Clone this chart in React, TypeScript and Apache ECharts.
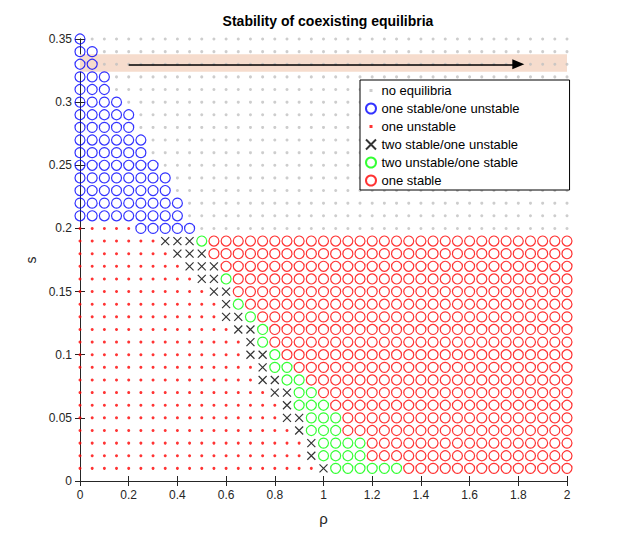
import React, { useEffect, useRef } from "react";
import * as echarts from "echarts";

// x grid: rho = 0..2 step 0.05 ; s rows 0.01..0.35
const xCount = 41;
const xStep = 0.05;
// Lower region rows (s = 0.01 .. 0.19): number of red dots, crosses, green circles; remainder red circles
const lowRows = [0.01, 0.02, 0.03, 0.04, 0.05, 0.06, 0.07, 0.08, 0.09, 0.1, 0.11, 0.12, 0.13, 0.14, 0.15, 0.16, 0.17, 0.18, 0.19];
const lowDots = [20, 19, 19, 18, 17, 17, 16, 15, 15, 14, 14, 13, 12, 12, 11, 10, 9, 8, 7];
const lowCross = [1, 1, 1, 1, 2, 1, 2, 2, 1, 2, 1, 2, 2, 1, 2, 2, 3, 3, 3];
const lowGreen = [6, 4, 4, 3, 3, 3, 2, 2, 2, 1, 1, 1, 1, 1, 0, 1, 0, 0, 1];
// row s = 0.20: red dots then blue circles then no equilibria
const row20 = 0.2;
const row20Dots = 5;
const row20Blue = 5;
// Upper rows (s = 0.21 .. 0.35): blue circles from rho = 0, rest no equilibria
const highRows = [0.21, 0.22, 0.23, 0.24, 0.25, 0.26, 0.27, 0.28, 0.29, 0.3, 0.31, 0.32, 0.33, 0.34, 0.35];
const highBlue = [9, 9, 8, 8, 7, 6, 6, 5, 5, 4, 3, 3, 2, 2, 1];
// shaded band and arrow
const band = [0.324, 0.338];
const arrowFrom = [0.2, 0.33];
const arrowTo = [1.8, 0.33];

const xTicks = [0, 0.2, 0.4, 0.6, 0.8, 1, 1.2, 1.4, 1.6, 1.8, 2];

const FONT = "Liberation Sans, Arial, sans-serif";
const DOT_ICON = "path://M3.5,3.5h3v3h-3z M0,0h0.01v0.01h-0.01z M9.99,9.99h0.01v0.01h-0.01z";

function build() {
  const gray: number[][] = [], blue: number[][] = [], redDot: number[][] = [], cross: number[][] = [], green: number[][] = [], redCirc: number[][] = [];
  const rx = (i: number) => +(i * xStep).toFixed(2);
  lowRows.forEach((s, r) => {
    for (let i = 0; i < xCount; i++) {
      const p = [rx(i), s];
      if (i < lowDots[r]) redDot.push(p);
      else if (i < lowDots[r] + lowCross[r]) cross.push(p);
      else if (i < lowDots[r] + lowCross[r] + lowGreen[r]) green.push(p);
      else redCirc.push(p);
    }
  });
  for (let i = 0; i < xCount; i++) {
    const p = [rx(i), row20];
    if (i < row20Dots) redDot.push(p);
    else if (i < row20Dots + row20Blue) blue.push(p);
    else gray.push(p);
  }
  highRows.forEach((s, r) => {
    for (let i = 0; i < xCount; i++) {
      const p = [rx(i), s];
      if (i < highBlue[r]) blue.push(p);
      else gray.push(p);
    }
  });
  return { gray, blue, redDot, cross, green, redCirc };
}

export default function App() {
  const ref = useRef<HTMLDivElement>(null);
  useEffect(() => {
    const chart = echarts.init(ref.current!, null, { renderer: "svg" });
    const d = build();
    const hollow = (c: string) => ({ color: "rgba(0,0,0,0)", borderColor: c, borderWidth: 1.2 });
    const axisCommon = {
      axisLine: { show: true, lineStyle: { color: "#262626" } },
      axisTick: { show: true, inside: true, length: 5, lineStyle: { color: "#262626" } },
      splitLine: { show: false },
    };
    chart.setOption({
      animation: false,
      backgroundColor: "#fff",
      title: {
        text: "Stability of coexisting equilibria",
        left: 323, top: 9, textAlign: "center",
        textStyle: { fontFamily: FONT, fontSize: 14, fontWeight: "bold", color: "#000" },
      },
      grid: { left: 80, right: 57, top: 39, bottom: 60 },
      legend: {
        orient: "vertical", left: 360, top: 80,
        backgroundColor: "#fff", borderColor: "#000", borderWidth: 1,
        padding: [4, 50, 3, 5], itemGap: 5, itemWidth: 11, itemHeight: 10,
        textStyle: { fontFamily: FONT, fontSize: 13, color: "#000" },
        data: [
          { name: "no equilibria", icon: DOT_ICON },
          { name: "one stable/one unstable" },
          { name: "one unstable", icon: DOT_ICON },
          { name: "two stable/one unstable" },
          { name: "two unstable/one stable" },
          { name: "one stable" },
        ],
      },
      xAxis: [
        {
          type: "value", min: 0, max: 2, interval: 0.2, position: "bottom",
          name: "ρ", nameLocation: "middle", nameGap: 30,
          nameTextStyle: { fontFamily: FONT, fontSize: 15, color: "#262626" },
          axisLabel: { fontFamily: FONT, fontSize: 12, color: "#262626", formatter: (v: number) => (xTicks.includes(+v.toFixed(1)) ? String(+v.toFixed(1)) : "") },
          ...axisCommon,
        },
        { type: "value", min: 0, max: 2, interval: 0.2, position: "top", axisLabel: { show: false }, ...axisCommon },
      ],
      yAxis: [
        {
          type: "value", min: 0, max: 0.35, interval: 0.05,
          name: "s", nameLocation: "middle", nameGap: 40, nameRotate: 90,
          nameTextStyle: { fontFamily: FONT, fontSize: 14, color: "#262626" },
          axisLabel: { fontFamily: FONT, fontSize: 12, color: "#262626", formatter: (v: number) => String(+v.toFixed(2)) },
          ...axisCommon,
        },
        { type: "value", min: 0, max: 0.35, interval: 0.05, position: "right", axisLabel: { show: false }, ...axisCommon },
      ],
      series: [
        {
          type: "scatter", name: "band", data: [], z: 0, silent: true,
          markArea: { silent: true, itemStyle: { color: "#f6dccd" }, data: [[{ xAxis: 0, yAxis: band[0] }, { xAxis: 2, yAxis: band[1] }]] },
          markLine: {
            silent: true, symbol: ["none", "triangle"], symbolSize: [10, 12], label: { show: false },
            lineStyle: { color: "#000", width: 1.5, type: "solid" },
            data: [[{ coord: arrowFrom }, { coord: arrowTo }]],
          },
        },
        { type: "scatter", name: "no equilibria", data: d.gray, symbol: "circle", symbolSize: 3, itemStyle: { color: "#c0c0c0" } },
        { type: "scatter", name: "one stable/one unstable", data: d.blue, symbol: "circle", symbolSize: 10, itemStyle: hollow("#0000ff") },
        { type: "scatter", name: "one unstable", data: d.redDot, symbol: "circle", symbolSize: 3, itemStyle: { color: "#ff0000" } },
        { type: "scatter", name: "two stable/one unstable", data: d.cross, symbol: "path://M0,0L10,10M10,0L0,10", symbolSize: 8, itemStyle: { color: "rgba(0,0,0,0)", borderColor: "#000", borderWidth: 1.2 } },
        { type: "scatter", name: "two unstable/one stable", data: d.green, symbol: "circle", symbolSize: 10, itemStyle: hollow("#00ff00") },
        { type: "scatter", name: "one stable", data: d.redCirc, symbol: "circle", symbolSize: 10, itemStyle: hollow("#ff0000") },
      ],
    });
    return () => chart.dispose();
  }, []);
  return <div ref={ref} style={{ width: 624, height: 541, margin: -8 }} />;
}
